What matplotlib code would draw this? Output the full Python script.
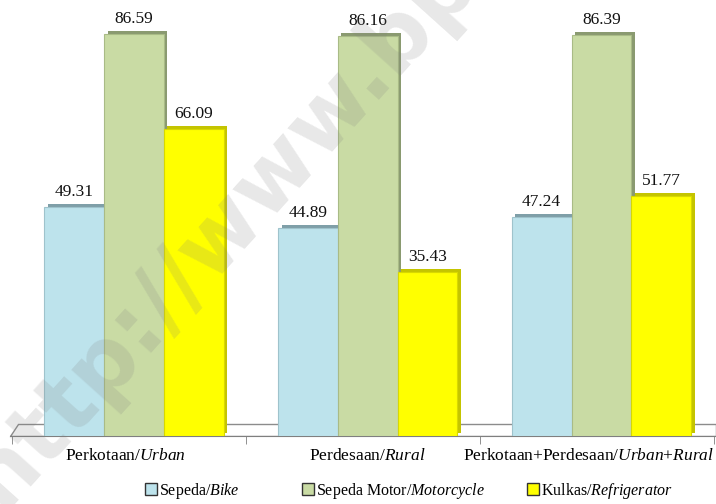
import matplotlib

matplotlib.use("Agg")
import matplotlib.pyplot as plt
import matplotlib.patheffects as pe
import matplotlib.transforms as mtransforms
from matplotlib.patches import Patch, Polygon
import numpy as np

plt.rcParams["font.family"] = ["Liberation Serif", "DejaVu Serif"]
plt.rcParams["mathtext.fontset"] = "custom"
plt.rcParams["mathtext.rm"] = "Liberation Serif"
plt.rcParams["mathtext.it"] = "Liberation Serif:italic"

# data
categories = [
    "Perkotaan/$\\mathit{Urban}$",
    "Perdesaan/$\\mathit{Rural}$",
    "Perkotaan+Perdesaan/$\\mathit{Urban}$+$\\mathit{Rural}$",
]
series = [
    "Sepeda/$\\mathit{Bike}$",
    "Sepeda Motor/$\\mathit{Motorcycle}$",
    "Kulkas/$\\mathit{Refrigerator}$",
]
bike = [49.31, 44.89, 47.24]
motorcycle = [86.59, 86.16, 86.39]
fridge = [66.09, 35.43, 51.77]

faces = ["#bde3ec", "#c9dba4", "#ffff00"]
sides = ["#7f9fa8", "#8a9a70", "#c4c400"]
edges = ["#9fc3cc", "#a9bb86", "#d8d800"]

fig = plt.figure(figsize=(7.16, 5.04), dpi=100)
ax = fig.add_axes([0.014, 0.135, 0.986, 0.865])

x = np.arange(len(categories))
w = 0.256
for i, vals in enumerate([bike, motorcycle, fridge]):
    bars = ax.bar(x + (i - 1) * w, vals, w, color=faces[i], edgecolor=edges[i],
                  lw=0.8, zorder=3)
    for b in bars:
        # fake 3D side/top face
        b.set_path_effects([
            pe.SimplePatchShadow(offset=(2.6, 2.2), shadow_rgbFace=sides[i], alpha=1.0),
            pe.Normal(),
        ])
    for xi, v in zip(x + (i - 1) * w, vals):
        ax.annotate(f"{v:.2f}", (xi, v), xytext=(0, 5), textcoords="offset points",
                    ha="center", va="bottom", fontsize=12.5, color="#111111", zorder=5)

ax.set_xlim(-0.53, 2.49)
ax.set_ylim(0, 94)
ax.set_yticks([])
for s in ["top", "right", "left"]:
    ax.spines[s].set_visible(False)
ax.spines["bottom"].set_color("#7f7f7f")

# floor slab
floor = Polygon([(0, 0), (1, 0), (1, 0.0275), (0.011, 0.0275)], closed=True,
                transform=ax.transAxes, facecolor="white", edgecolor="#8c8c8c",
                lw=1.0, zorder=1)
ax.add_patch(floor)

ax.set_xticks(x)
ax.set_xticklabels(categories, fontsize=12.5)
ax.tick_params(axis="x", length=0, pad=9)
ax.set_xticks([-0.52, 0.48, 1.48, 2.48], minor=True)
ax.tick_params(axis="x", which="minor", length=6, color="#7f7f7f")
# nudge labels like the original (last one pulled back inside the figure)
lbls = ax.get_xticklabels()
lbls[0].set_transform(lbls[0].get_transform() + mtransforms.ScaledTranslation(-8 / 100, 0, fig.dpi_scale_trans))
lbls[2].set_transform(lbls[2].get_transform() + mtransforms.ScaledTranslation(-13 / 100, 0, fig.dpi_scale_trans))

# legend entries placed individually (uneven gaps in the original)
leg_x = [0.198, 0.417, 0.731]
for i in range(3):
    h = Patch(facecolor=faces[i], edgecolor="#333333", lw=1.0)
    fig.legend([h], [series[i]], loc="lower left", bbox_to_anchor=(leg_x[i], 0.0),
               frameon=False, fontsize=11.5, handlelength=0.75, handleheight=0.75,
               handletextpad=0.15, borderpad=0.2, borderaxespad=0.0)

# watermark
fig.text(0.022, -0.04, "http://www.bps.go.id", rotation=48, rotation_mode="anchor",
         ha="left", va="bottom", fontsize=64, fontweight="bold",
         family="DejaVu Sans", color="gray", alpha=0.18, zorder=10)

fig.savefig("out.png", dpi=100)
